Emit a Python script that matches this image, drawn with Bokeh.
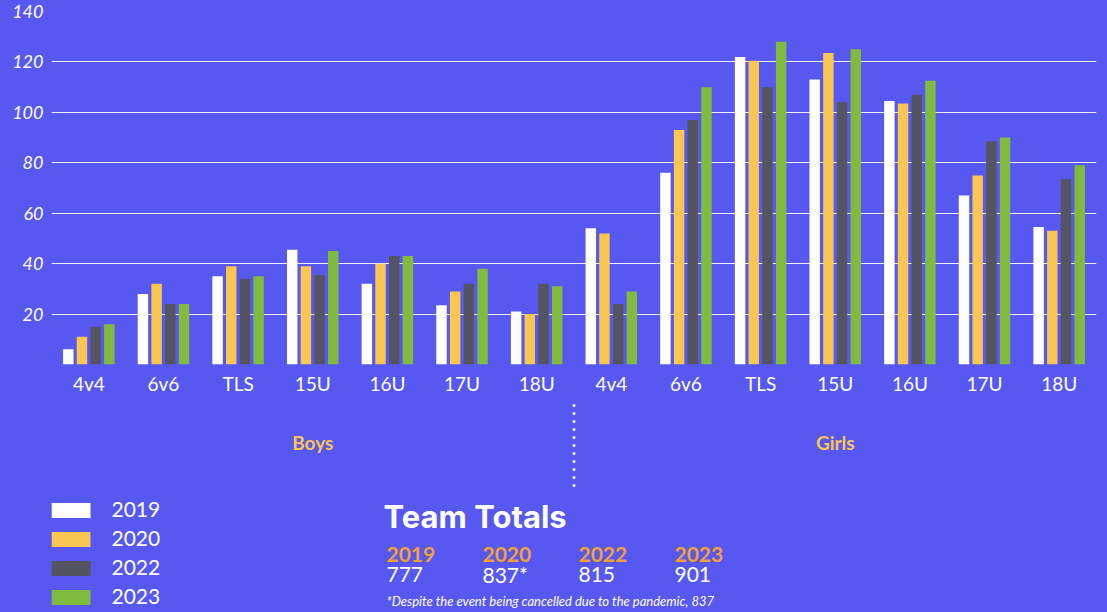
from bokeh.plotting import figure
from bokeh.layouts import column
from bokeh.models import FactorRange, Range1d, FixedTicker, ColumnDataSource, CustomJSTickFormatter
from bokeh.transform import dodge
from bokeh.core.properties import value
from bokeh.embed import file_html
from bokeh.resources import INLINE

# ---------------- data ----------------
categories = ["4v4", "6v6", "TLS", "15U", "16U", "17U", "18U"]
groups = ["Boys", "Girls"]
years = ["2019", "2020", "2022", "2023"]
v2019 = [6, 28, 35, 45.5, 32, 23.5, 21, 54, 76, 122, 113, 104.5, 67, 54.5]
v2020 = [11, 32, 39, 39, 40, 29, 20, 52, 93, 120.5, 123.5, 103.5, 75, 53]
v2022 = [15, 24, 34, 35.5, 43, 32, 32, 24, 97, 110, 104, 107, 88.5, 73.5]
v2023 = [16, 24, 35, 45, 43, 38, 31, 29, 110, 128, 125, 112.5, 90, 79]
totals = ["777", "837*", "815", "901"]
y_ticks = [20, 40, 60, 80, 100, 120, 140]
footnote = "*Despite the event being cancelled due to the pandemic, 837"

BG = "#5758F0"
COLORS = ["#FFFFFF", "#F9C652", "#555561", "#80BB3F"]
GOLD = "#F9C54F"
ORANGE = "#F5A032"

factors = [f"{g} {c}" for g in groups for c in categories]

src = ColumnDataSource(dict(x=factors, y2019=v2019, y2020=v2020, y2022=v2022, y2023=v2023))

W, H = 1107, 612
HA = 400
FL, FR, FT, FB = 51, 11, 11, 36
p = figure(width=W, height=HA, output_backend="svg", toolbar_location=None,
           x_range=FactorRange(*factors, range_padding=0, factor_padding=0),
           y_range=Range1d(0, 140),
           min_border_left=FL, min_border_right=FR, min_border_top=FT, min_border_bottom=FB,
           styles={"background-color": BG})
p.background_fill_color = BG
p.border_fill_color = None
p.outline_line_color = None

offsets = [-0.275, -0.092, 0.092, 0.275]
for yr, off, col in zip(years, offsets, COLORS):
    p.vbar(x=dodge("x", off, range=p.x_range), top="y" + yr, width=0.14, source=src,
           fill_color=col, line_color=None)

p.xgrid.grid_line_color = None
p.ygrid.grid_line_color = "white"
p.ygrid.grid_line_alpha = 0.9
p.ygrid.grid_line_width = 1
p.yaxis.ticker = FixedTicker(ticks=y_ticks)
p.ygrid.ticker = FixedTicker(ticks=y_ticks)

for ax in (p.xaxis[0], p.yaxis[0]):
    ax.axis_line_color = None
    ax.major_tick_line_color = None
    ax.minor_tick_line_color = None
    ax.major_tick_out = 0
    ax.major_tick_in = 0
    ax.major_label_text_color = "white"
    ax.major_label_text_font = "Lato"

p.yaxis.major_label_text_font_style = "italic"
p.yaxis.major_label_text_font_size = "18px"
p.yaxis.major_label_standoff = 8
p.xaxis.major_label_text_font_size = "19px"
p.xaxis.major_label_standoff = 7
p.xaxis.formatter = CustomJSTickFormatter(code="return tick.substring(tick.indexOf(' ') + 1);")

# ---------------- lower panel (page-pixel coordinates) ----------------
# its frame is aligned with the chart's frame by the column layout
HB = H - HA
q = figure(width=W, height=HB, output_backend="svg", toolbar_location=None,
           x_range=Range1d(FL, W - FR), y_range=Range1d(H, HA),
           x_axis_type=None, y_axis_type=None,
           min_border_left=0, min_border_right=0, min_border_top=0, min_border_bottom=0,
           styles={"background-color": BG})
q.background_fill_color = BG
q.border_fill_color = None
q.outline_line_color = None
q.grid.grid_line_color = None

cat_w = (W - FL - FR) / len(factors)
n = len(categories)
grp_x = [FL + (i * n + n / 2) * cat_w for i in range(len(groups))]
q.text(x=grp_x, y=[442, 442], text=groups, text_color=GOLD, text_font=value("Lato"),
       text_font_style="bold", text_font_size="19px", text_align="center",
       text_baseline="middle")

div_x = FL + n * cat_w
q.segment(x0=[div_x], y0=[405], x1=[div_x], y1=[493], line_color="white",
          line_width=3, line_dash="0 8", line_cap="round")

# legend
leg_y = [510 + 29 * i for i in range(len(years))]
q.rect(x=[70.5] * 4, y=leg_y, width=39, height=15, fill_color=COLORS, line_color=None)
q.text(x=[111] * 4, y=[y - 1 for y in leg_y], text=years, text_color="white",
       text_font=value("Lato"), text_font_size="21px", text_baseline="middle")

# team totals
q.text(x=[383], y=[516], text=["Team Totals"], text_color="white", text_font=value("Inter"),
       text_font_style="bold", text_font_size="31px", text_baseline="middle")
tx = [386 + 96 * i for i in range(len(years))]
q.text(x=tx, y=[554] * 4, text=years, text_color=ORANGE, text_font=value("Lato"),
       text_font_style="bold", text_font_size="21px", text_baseline="middle")
q.text(x=tx, y=[574] * 4, text=totals, text_color="white", text_font=value("Lato"),
       text_font_size="21px", text_baseline="middle")
q.text(x=[386], y=[600], text=[footnote], text_color="white", text_font=value("Lato"),
       text_font_style="italic", text_font_size="13px", text_baseline="middle")

layout = column(p, q, spacing=0, styles={"background-color": BG})
open("out.html", "w").write(file_html(layout, INLINE))
